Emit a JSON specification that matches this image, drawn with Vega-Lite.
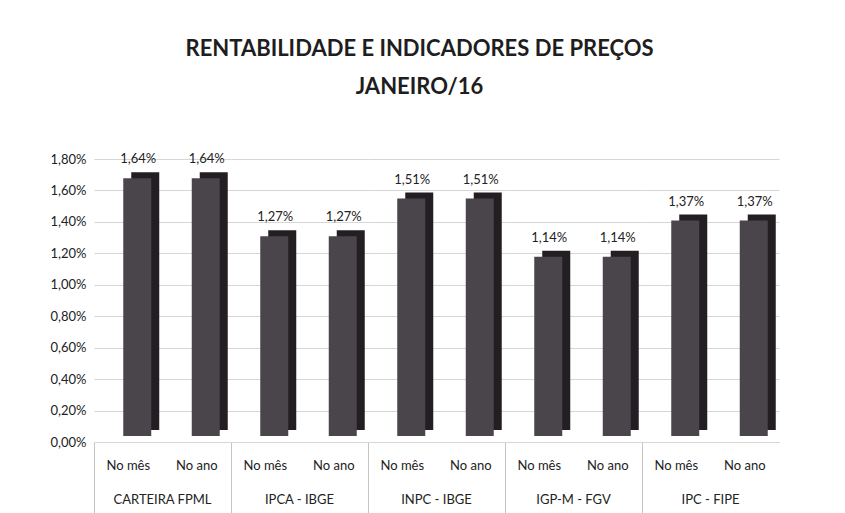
{
  "$schema": "https://vega.github.io/schema/vega-lite/v6.json",
  "padding": {"left": 50, "top": 38, "right": 10, "bottom": 0},
  "background": "#ffffff",
  "title": {
    "text": ["RENTABILIDADE E INDICADORES DE PREÇOS", "JANEIRO/16"],
    "font": "Lato",
    "fontSize": 22,
    "fontWeight": "bold",
    "color": "#1e1e1e",
    "lineHeight": 38,
    "anchor": "middle",
    "dx": 5,
    "offset": 54
  },
  "data": {
    "values": [
      {"grupo": "CARTEIRA FPML", "periodo": "No mês", "valor": 0.0164},
      {"grupo": "CARTEIRA FPML", "periodo": "No ano", "valor": 0.0164},
      {"grupo": "IPCA - IBGE", "periodo": "No mês", "valor": 0.0127},
      {"grupo": "IPCA - IBGE", "periodo": "No ano", "valor": 0.0127},
      {"grupo": "INPC - IBGE", "periodo": "No mês", "valor": 0.0151},
      {"grupo": "INPC - IBGE", "periodo": "No ano", "valor": 0.0151},
      {"grupo": "IGP-M - FGV", "periodo": "No mês", "valor": 0.0114},
      {"grupo": "IGP-M - FGV", "periodo": "No ano", "valor": 0.0114},
      {"grupo": "IPC - FIPE", "periodo": "No mês", "valor": 0.0137},
      {"grupo": "IPC - FIPE", "periodo": "No ano", "valor": 0.0137}
    ]
  },
  "spacing": 0,
  "facet": {
    "column": {
      "field": "grupo",
      "type": "nominal",
      "sort": ["CARTEIRA FPML", "IPCA - IBGE", "INPC - IBGE", "IGP-M - FGV", "IPC - FIPE"],
      "header": {
        "title": null,
        "labelOrient": "bottom",
        "labelFont": "Lato",
        "labelFontSize": 13,
        "labelColor": "#222222",
        "labelPadding": -21
      }
    }
  },
  "spec": {
    "width": 137,
    "height": 283,
    "encoding": {
      "x": {
        "field": "periodo",
        "type": "nominal",
        "sort": ["No mês", "No ano"],
        "scale": {"paddingInner": 0, "paddingOuter": 0},
        "axis": {
          "title": null,
          "labelAngle": 0,
          "labelFont": "Lato",
          "labelFontSize": 13,
          "labelColor": "#222222",
          "domainColor": "#c4c4c4",
          "bandPosition": 0,
          "tickSize": 72,
          "tickColor": {"condition": {"test": "datum.value === 'No mês'", "value": "#c4c4c4"}, "value": "transparent"},
          "labelPadding": -55
        }
      },
      "y": {
        "field": "valor",
        "type": "quantitative",
        "scale": {"domain": [0, 0.018], "nice": false},
        "axis": {
          "title": null,
          "format": ".2%",
          "values": [0, 0.002, 0.004, 0.006, 0.008, 0.01, 0.012, 0.014, 0.016, 0.018],
          "labelFont": "Lato",
          "labelFontSize": 13,
          "labelColor": "#222222",
          "ticks": false,
          "domain": false,
          "labelPadding": 8,
          "gridColor": "#d6d6d6"
        }
      }
    },
    "layer": [
      {"mark": {"type": "bar", "size": 28, "color": "#221e22", "xOffset": 17, "yOffset": -12}},
      {"mark": {"type": "bar", "size": 28, "color": "#4a454b", "xOffset": 9, "yOffset": -6}},
      {
        "mark": {"type": "text", "font": "Lato", "fontSize": 13, "color": "#222222", "baseline": "bottom", "dx": 10, "dy": -18},
        "encoding": {"text": {"field": "valor", "type": "quantitative", "format": ".2%"}}
      }
    ]
  },
  "config": {
    "view": {"stroke": null},
    "locale": {"number": {"decimal": ",", "thousands": ".", "grouping": [3], "currency": ["R$", ""]}}
  }
}
